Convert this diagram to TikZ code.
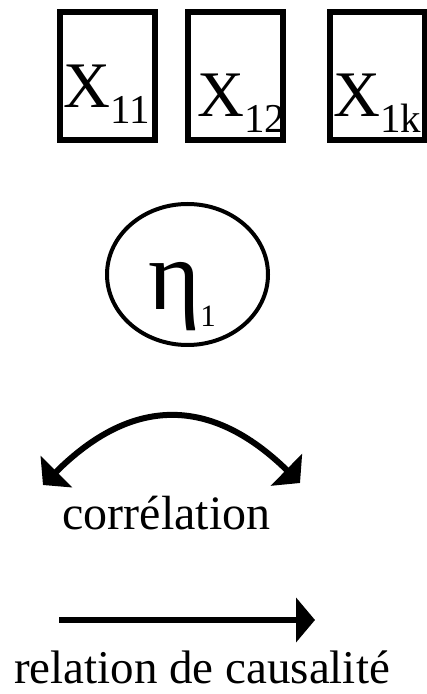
\documentclass[tikz,border=0pt]{standalone}
\usepackage{fontspec}
\setmainfont{Liberation Serif}
\usepackage{xcolor}
\usetikzlibrary{shapes.geometric,arrows.meta}
\tikzset{
  varbox/.style={draw=black, line width=6pt, minimum width=95pt, minimum height=128pt, inner sep=0pt},
  varlabel/.style={anchor=base west, inner sep=0pt},
  fleche/.style={line width=6pt, -{Triangle[length=19pt,width=44pt]}},
}
\newcommand{\grandX}[1]{{\fontsize{65}{65}\selectfont X}{\fontsize{41}{41}\selectfont\raisebox{-16pt}{#1}}}

\begin{document}
\begin{tikzpicture}[x=1pt,y=1pt]
  \useasboundingbox[fill=white] (0,0) rectangle (427,694);
  % variables manifestes
  \node[varbox] (x11) at (107.5,618) {};
  \node[varbox] (x12) at (235,618) {};
  \node[varbox] (x1k) at (377,618) {};
  \node[varlabel] (l11) at (63,586) {\grandX{11}};
  \node[varlabel] (l12) at (197,577) {\grandX{12}};
  \node[varlabel] (l1k) at (333,577) {\grandX{1k}};
  % variable latente
  \node[
    draw=black,
    ellipse,
    line width=4pt,
    minimum width=161pt,
    minimum height=141pt,
    inner sep=0pt
  ] (eta1) at (187.5,419.5) {};
  \node[varlabel] (leta) at (148,384) {{\fontsize{100}{100}\selectfont η}{\fontsize{31}{31}\selectfont\raisebox{-17pt}{1}}};
  % legende
  \coordinate (corrG) at (43,209);
  \coordinate (corrD) at (300,211);
  \draw[line width=6pt, {Triangle[length=19pt,width=44pt]}-{Triangle[length=19pt,width=44pt]}]
    (corrG) .. controls +(89,89) and +(-89,87) .. (corrD);
  \node[anchor=base, inner sep=0pt] (corr) at (166.5,164) {\fontsize{48}{48}\selectfont corrélation};
  \coordinate (causeA) at (59,74);
  \coordinate (causeB) at (315,74);
  \draw[fleche] (causeA) -- (causeB);
  \node[anchor=base, inner sep=0pt] (cause) at (202,10) {\fontsize{47}{47}\selectfont relation de causalité};
\end{tikzpicture}
\end{document}
